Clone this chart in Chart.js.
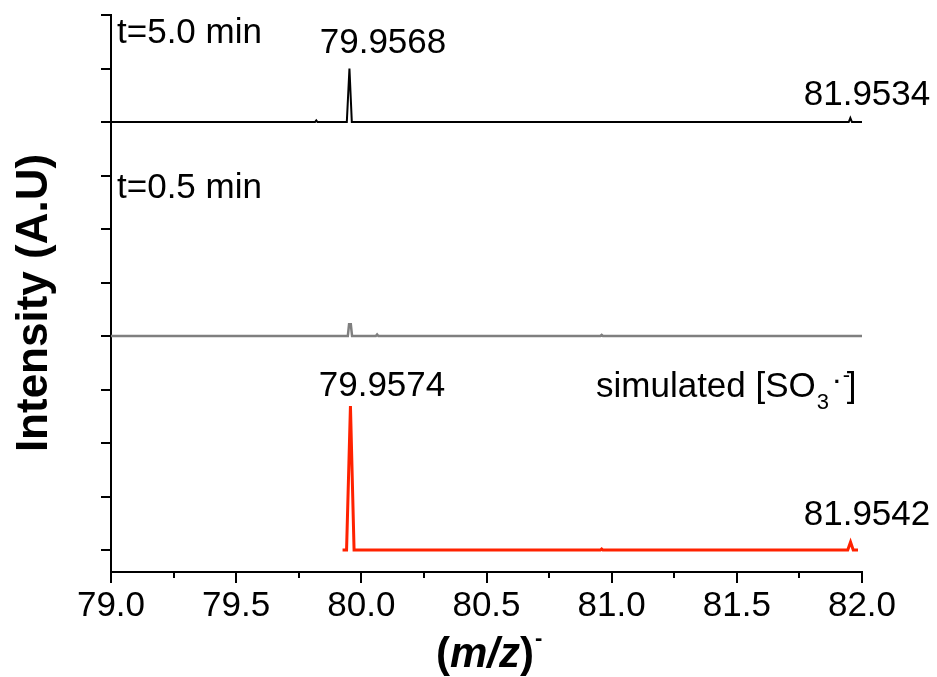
<!DOCTYPE html>
<html>
<head>
<meta charset="utf-8">
<script src="https://cdn.jsdelivr.net/npm/chart.js@4.4.0/dist/chart.umd.min.js"></script>
<style>
  html, body { margin: 0; padding: 0; background: #fff; }
  #wrap { width: 937px; height: 677px; }
</style>
</head>
<body>
<div id="wrap"><canvas id="msChart" width="937" height="677"></canvas></div>
<script>
// axis ticks
const xTicks = [79.0, 79.5, 80.0, 80.5, 81.0, 81.5, 82.0];
const yTicks = [0, 1, 2, 3, 4, 5, 6, 7, 8, 9, 10];

// t=5.0 min spectrum (m/z, relative intensity)
const mz5 = [79.0, 79.815, 79.82, 79.825, 79.942, 79.9525, 79.962, 81.947, 81.9534, 81.960, 82.0];
const int5 = [0, 0, 0.03, 0, 0, 1.0, 0, 0, 0.075, 0, 0];

// t=0.5 min spectrum
const mz05 = [79.0, 79.946, 79.951, 79.958, 79.963, 80.058, 80.063, 80.068, 80.955, 80.96, 80.965, 82.0];
const int05 = [0, 0, 0.22, 0.22, 0, 0, 0.03, 0, 0, 0.02, 0, 0];

// simulated [SO3]-
const mzSim = [79.925, 79.935, 79.941, 79.9565, 79.971, 80.955, 80.96, 80.965, 81.943, 81.9542, 81.965, 81.984];
const intSim = [0, 0, 0, 2.69, 0, 0, 0.02, 0, 0, 0.15, 0, 0];

// vertical offset of each trace (stacked panels)
const offsets = [8, 4, 0];

const FONT = "'Liberation Sans', Arial, sans-serif";

function toPoints(mz, inten, off) {
  return mz.map((m, i) => ({ x: m, y: inten[i] + off }));
}

const decor = {
  id: "decor",
  afterDraw(chart) {
    const { ctx, scales: { x, y } } = chart;
    ctx.save();
    ctx.strokeStyle = "#000";
    ctx.lineWidth = 2;
    ctx.beginPath();
    // x major + minor ticks
    xTicks.forEach((v, i) => {
      const px = Math.round(x.getPixelForValue(v));
      ctx.moveTo(px, y.bottom);
      ctx.lineTo(px, y.bottom + 11);
      if (i < xTicks.length - 1) {
        const pm = Math.round(x.getPixelForValue(v + 0.25));
        ctx.moveTo(pm, y.bottom);
        ctx.lineTo(pm, y.bottom + 6);
      }
    });
    // y ticks
    yTicks.forEach(v => {
      const py = Math.round(y.getPixelForValue(v));
      ctx.moveTo(x.left - 10, py);
      ctx.lineTo(x.left, py);
    });
    ctx.stroke();

    ctx.fillStyle = "#000";
    ctx.font = "35px " + FONT;
    ctx.textAlign = "center";
    ctx.textBaseline = "alphabetic";
    xTicks.forEach(v => {
      ctx.fillText(v.toFixed(1), x.getPixelForValue(v), 616);
    });

    // peak labels
    ctx.fillText("79.9568", 383, 53);
    ctx.fillText("81.9534", 867, 105);
    ctx.fillText("79.9574", 382, 396);
    ctx.fillText("81.9542", 867, 525);

    ctx.textAlign = "left";
    ctx.fillText("t=5.0 min", 117, 43);
    ctx.fillText("t=0.5 min", 117, 198);

    // simulated [SO3•-]
    const s1 = "simulated [SO";
    ctx.fillText(s1, 596, 397);
    let cx = 596 + ctx.measureText(s1).width;
    ctx.font = "22px " + FONT;
    ctx.fillText("3", cx + 1, 409);
    ctx.font = "bold 22px " + FONT;
    ctx.fillText("\u00B7", cx + 18, 389);
    ctx.font = "22px " + FONT;
    ctx.fillText("-", cx + 27, 382);
    ctx.font = "35px " + FONT;
    ctx.fillText("]", cx + 31, 397);

    // y title
    ctx.save();
    ctx.translate(47, 303);
    ctx.rotate(-Math.PI / 2);
    ctx.textAlign = "center";
    ctx.font = "bold 44px " + FONT;
    ctx.fillText("Intensity (A.U)", 0, 0);
    ctx.restore();

    // x title (m/z)-
    ctx.textAlign = "left";
    let tx = 436;
    const by = 667;
    ctx.font = "bold 42px " + FONT;
    ctx.fillText("(", tx, by);
    tx += ctx.measureText("(").width;
    ctx.font = "italic bold 42px " + FONT;
    ctx.fillText("m/z", tx, by);
    tx += ctx.measureText("m/z").width;
    ctx.font = "bold 42px " + FONT;
    ctx.fillText(")", tx, by);
    tx += ctx.measureText(")").width;
    ctx.font = "bold 22px " + FONT;
    ctx.fillText("-", tx + 1, 645);
    ctx.restore();
  }
};

new Chart(document.getElementById("msChart"), {
  type: "line",
  data: {
    datasets: [
      {
        label: "t=5.0 min",
        data: toPoints(mz5, int5, offsets[0]),
        borderColor: "#000000",
        borderWidth: 2,
      },
      {
        label: "t=0.5 min",
        data: toPoints(mz05, int05, offsets[1]),
        borderColor: "#7f7f7f",
        borderWidth: 2.5,
      },
      {
        label: "simulated",
        data: toPoints(mzSim, intSim, offsets[2]),
        borderColor: "#ff2200",
        borderWidth: 3,
      },
    ],
  },
  options: {
    responsive: false,
    animation: false,
    layout: { padding: { top: 15, right: 75, left: 0, bottom: 0 } },
    elements: { point: { radius: 0 }, line: { tension: 0 } },
    plugins: { legend: { display: false }, tooltip: { enabled: false } },
    scales: {
      x: {
        type: "linear",
        min: 79,
        max: 82,
        ticks: { stepSize: 0.5, display: false },
        grid: { display: false },
        border: { display: true, color: "#000", width: 2 },
        afterFit: s => { s.height = 105; },
      },
      y: {
        type: "linear",
        min: -0.41,
        max: 10,
        ticks: { stepSize: 1, display: false },
        grid: { display: false },
        border: { display: true, color: "#000", width: 2 },
        afterFit: s => { s.width = 111; },
      },
    },
  },
  plugins: [decor],
});
</script>
</body>
</html>
